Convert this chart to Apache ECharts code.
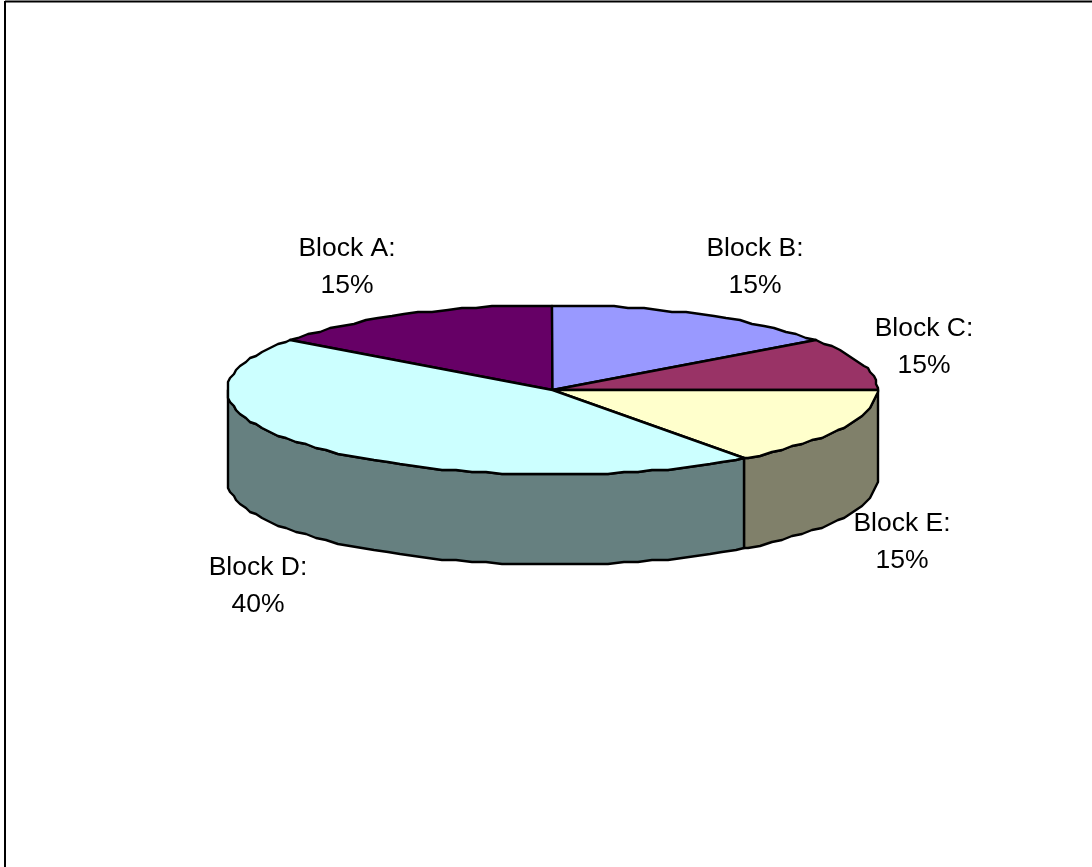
<!DOCTYPE html>
<html><head><meta charset="utf-8">
<style>html,body{margin:0;padding:0;background:#fff}#c{width:1092px;height:867px}</style>
<script src="https://cdn.jsdelivr.net/npm/echarts@6/dist/echarts.min.js"></script>
</head><body><div id="c"></div>
<script>
const categories = ['Block A','Block B','Block C','Block E','Block D'];
const sliceValues = [15,15,10,15,45];
const labelPercents = ['15%','15%','15%','15%','40%'];
const topColors = ['#660066','#9999FF','#993366','#FFFFCC','#CCFFFF'];
const sideColors = ['#330033','#4C4C80','#4C1933','#80806A','#668080'];
const labelCenters = [[347,267.5],[755,267.5],[924,347],[902,542.5],[258,586]];
const CX=552.5, CY=390, RX=325, RY=84.5, DEPTH=90, START=-54;
const LATTICE=2, STEP=2.7;
const total = sliceValues.reduce((a,b)=>a+b,0);
let acc = START;
const angles = sliceValues.map(v=>{const s=acc; acc+=v/total*360; return [s,acc];});
function snap(v){return Math.round(v/LATTICE)*LATTICE;}
function pt(deg,dz){const r=deg*Math.PI/180;return [snap(CX+RX*Math.sin(r)),snap(CY-RY*Math.cos(r))+(dz||0)];}
function arc(a,b,dz){
  const out=[pt(a,dz)];
  const dir=b>a?1:-1;
  let k=dir>0?Math.floor(a/STEP)+1:Math.ceil(a/STEP)-1;
  for(;dir>0?k*STEP<b-0.01:k*STEP>b+0.01;k+=dir){out.push(pt(k*STEP,dz));}
  out.push(pt(b,dz));
  return out;
}
const style={stroke:'#000',lineWidth:2.4,lineJoin:'round'};
function renderItem(params,api){
  const i=params.dataIndex;const [a,b]=angles[i];
  const children=[];
  const sa=Math.max(a,90), sb=Math.min(b,270);
  const toPx=p=>api.coord(p);
  if(sb>sa){
    const top=arc(sa,sb,0), bottom=arc(sb,sa,DEPTH);
    children.push({type:'polygon',shape:{points:top.concat(bottom).map(toPx)},style:Object.assign({fill:sideColors[i]},style)});
  }
  const c=[CX,CY];
  children.push({type:'polygon',shape:{points:[c].concat(arc(a,b,0)).map(toPx)},style:Object.assign({fill:topColors[i]},style)});
  return {type:'group',children};
}
function renderLabel(params,api){
  const i=params.dataIndex;const p=api.coord(labelCenters[i]);
  return {type:'text',x:p[0],y:p[1],style:{text:categories[i]+':\n'+labelPercents[i],fill:'#000',fontFamily:'"Liberation Sans", Arial, sans-serif',fontSize:26.5,lineHeight:37,align:'center',verticalAlign:'middle'}};
}
const chart=echarts.init(document.getElementById('c'),null,{renderer:'canvas'});
chart.setOption({
  animation:false,backgroundColor:'#fff',
  grid:{left:0,right:0,top:0,bottom:0},
  xAxis:{type:'value',min:0,max:1092,show:false},
  yAxis:{type:'value',min:0,max:867,inverse:true,show:false},
  series:[
    {type:'custom',coordinateSystem:'cartesian2d',renderItem,data:sliceValues.map((v,i)=>[i,v]),silent:true,clip:false,z:2},
    {type:'custom',coordinateSystem:'cartesian2d',renderItem:renderLabel,data:sliceValues.map((v,i)=>[i,v]),silent:true,clip:false,z:3}
  ],
  graphic:[
    {type:'line',shape:{x1:5,y1:1.5,x2:1092,y2:1.5},style:{stroke:'#000',lineWidth:2}},
    {type:'line',shape:{x1:5,y1:1,x2:5,y2:867},style:{stroke:'#000',lineWidth:2}}
  ]
});
</script></body></html>
